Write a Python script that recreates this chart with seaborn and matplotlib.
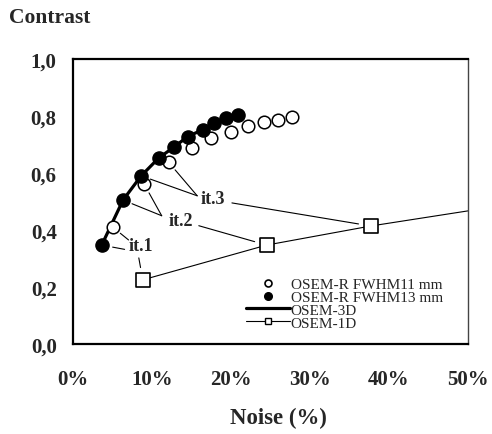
import matplotlib
matplotlib.use("Agg")
import matplotlib.pyplot as plt
import seaborn as sns
import pandas as pd
from matplotlib.lines import Line2D

# Data (noise %, contrast)
fwhm11_noise = [5.0, 9.0, 12.1, 15.0, 17.5, 20.0, 22.1, 24.2, 26.0, 27.7]
fwhm11_contrast = [0.41, 0.56, 0.637, 0.687, 0.722, 0.745, 0.764, 0.778, 0.787, 0.795]
fwhm13_noise = [3.6, 6.3, 8.6, 10.8, 12.8, 14.5, 16.4, 17.8, 19.3, 20.9]
fwhm13_contrast = [0.347, 0.505, 0.59, 0.652, 0.692, 0.728, 0.752, 0.775, 0.792, 0.805]
osem3d_noise = fwhm13_noise
osem3d_contrast = fwhm13_contrast
osem1d_noise = [8.8, 24.5, 37.7]
osem1d_contrast = [0.225, 0.347, 0.414]
osem1d_tail_noise = [37.7, 50.0]
osem1d_tail_contrast = [0.414, 0.467]

xticks = [0, 10, 20, 30, 40, 50]
xticklabels = ["0%", "10%", "20%", "30%", "40%", "50%"]
yticks = [0.0, 0.2, 0.4, 0.6, 0.8, 1.0]
yticklabels = ["0,0", "0,2", "0,4", "0,6", "0,8", "1,0"]
legend_labels = ["OSEM-R FWHM11 mm", "OSEM-R FWHM13 mm", "OSEM-3D", "OSEM-1D"]

sns.set_style("white")
plt.rcParams["font.family"] = ["Liberation Serif", "DejaVu Serif"]

fig = plt.figure(figsize=(4.92, 4.35), dpi=100)
ax = fig.add_axes([0.149, 0.207, 0.802, 0.655])

df1d = pd.DataFrame({"x": osem1d_noise + osem1d_tail_noise[1:],
                     "y": osem1d_contrast + osem1d_tail_contrast[1:]})
sns.lineplot(data=df1d, x="x", y="y", ax=ax, color="black", lw=0.8, sort=False, zorder=2)
sns.scatterplot(x=osem1d_noise, y=osem1d_contrast, ax=ax, marker="s", s=90,
                facecolor="white", edgecolor="black", linewidth=1.2, zorder=3)
sns.lineplot(x=osem3d_noise, y=osem3d_contrast, ax=ax, color="black", lw=2.3, sort=False, zorder=2)
sns.scatterplot(x=fwhm11_noise, y=fwhm11_contrast, ax=ax, marker="o", s=82,
                facecolor="white", edgecolor="black", linewidth=1.1, zorder=4)
sns.scatterplot(x=fwhm13_noise, y=fwhm13_contrast, ax=ax, marker="o", s=90,
                facecolor="black", edgecolor="black", linewidth=1.0, zorder=5)

ax.set_xlim(0, 50)
ax.set_ylim(0, 1.0)
ax.set_xticks(xticks)
ax.set_xticklabels(xticklabels, fontsize=15, fontweight="bold")
ax.set_yticks(yticks)
ax.set_yticklabels(yticklabels, fontsize=15, fontweight="bold")
ax.set_xlabel("Noise (%)", fontsize=16.5, fontweight="bold", labelpad=13)
ax.xaxis.label.set_x(0.52)
ax.set_ylabel("")
ax.tick_params(axis="x", direction="out", length=5, width=1.2, color="black", pad=13)
ax.tick_params(axis="y", direction="out", length=4, width=1.2, color="black", pad=8)
for side in ["left", "bottom", "top"]:
    ax.spines[side].set_linewidth(1.6)
    ax.spines[side].set_color("black")
ax.spines["right"].set_linewidth(1.0)
ax.spines["right"].set_color("#444444")

fig.text(0.018, 0.958, "Contrast", fontsize=15.5, fontweight="bold", ha="left", va="center")

# iteration annotations
ann = dict(arrowstyle="-", color="black", lw=0.8, shrinkA=0, shrinkB=7)
ax.text(8.6, 0.345, "it.1", fontsize=13, fontweight="bold", ha="center", va="center")
ax.annotate("", xy=(fwhm11_noise[0], fwhm11_contrast[0]), xytext=(7.0, 0.365), arrowprops=ann)
ax.annotate("", xy=(fwhm13_noise[0], fwhm13_contrast[0]), xytext=(6.5, 0.332), arrowprops=dict(ann, shrinkB=8))
ax.annotate("", xy=(osem1d_noise[0], osem1d_contrast[0]), xytext=(8.3, 0.302), arrowprops=dict(ann, shrinkB=9))

ax.text(13.6, 0.434, "it.2", fontsize=13, fontweight="bold", ha="center", va="center")
ax.annotate("", xy=(fwhm13_noise[1], fwhm13_contrast[1]), xytext=(11.2, 0.45), arrowprops=ann)
ax.annotate("", xy=(fwhm11_noise[1], fwhm11_contrast[1]), xytext=(11.2, 0.45), arrowprops=ann)
ax.annotate("", xy=(osem1d_noise[1], osem1d_contrast[1]), xytext=(15.9, 0.415), arrowprops=dict(ann, shrinkB=9))

ax.text(17.7, 0.51, "it.3", fontsize=13, fontweight="bold", ha="center", va="center")
ax.annotate("", xy=(fwhm13_noise[2], fwhm13_contrast[2]), xytext=(15.7, 0.52), arrowprops=ann)
ax.annotate("", xy=(fwhm11_noise[2], fwhm11_contrast[2]), xytext=(15.7, 0.52), arrowprops=ann)
ax.annotate("", xy=(osem1d_noise[2], osem1d_contrast[2]), xytext=(20.1, 0.495), arrowprops=dict(ann, shrinkB=9))

handles = [
    Line2D([], [], ls="none", marker="o", markersize=5, mfc="white", mec="black", mew=1.2),
    Line2D([], [], ls="none", marker="o", markersize=5.5, mfc="black", mec="black"),
    Line2D([], [], color="black", lw=2.3),
    Line2D([], [], color="black", lw=0.8, marker="s", markersize=5, mfc="white", mec="black", mew=1.0),
]
leg = ax.legend(handles, legend_labels, loc="lower left", bbox_to_anchor=(0.437, 0.05),
                frameon=False, fontsize=11, handlelength=2.9, handletextpad=0.05,
                labelspacing=-0.05, borderaxespad=0.0, borderpad=0.0)

fig.savefig("out.png", dpi=100)
